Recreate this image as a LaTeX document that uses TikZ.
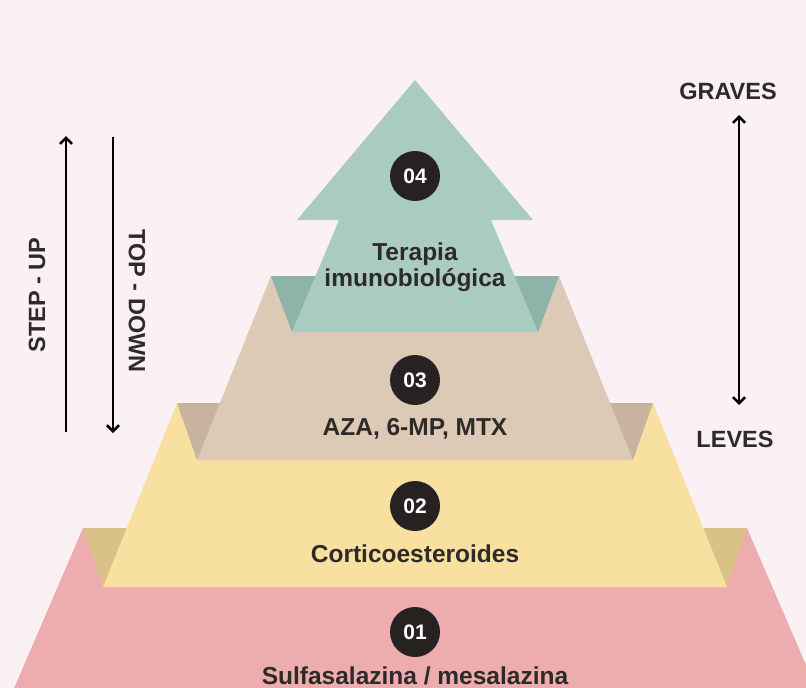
\documentclass[tikz,border=0pt]{standalone}
\usepackage{fontspec}
\setmainfont{Liberation Sans}
\usetikzlibrary{arrows.meta}
\definecolor{bg}{HTML}{FBF1F5}
\definecolor{pinkT}{HTML}{EDADAE}
\definecolor{yelT}{HTML}{F8E0A1}
\definecolor{yelF}{HTML}{D9C188}
\definecolor{tanT}{HTML}{DCC9B6}
\definecolor{tanF}{HTML}{C8B39F}
\definecolor{grnT}{HTML}{A9CBC0}
\definecolor{grnF}{HTML}{8EB4AA}
\definecolor{circ}{HTML}{262222}
\definecolor{txt}{HTML}{2E2A28}
\tikzset{
  lbl/.style={font=\fontsize{23.5}{28}\selectfont\bfseries, text=txt, inner sep=0pt},
  tiertxt/.style={font=\fontsize{24.5}{26}\selectfont\bfseries, text=txt, inner sep=0pt, anchor=base},
  numc/.style={circle, fill=circ, text=white, minimum size=50pt, inner sep=0pt, font=\fontsize{21}{22}\selectfont\bfseries},
  conn/.style={line width=2.6pt, draw=black, -{Straight Barb[length=6pt,width=12pt]}},
  dconn/.style={line width=2.6pt, draw=black, {Straight Barb[length=6pt,width=12pt]}-{Straight Barb[length=6pt,width=12pt]}}
}
\begin{document}
\begin{tikzpicture}[x=1pt,y=-1pt]
\useasboundingbox (0,0) rectangle (806,688);
\clip (0,0) rectangle (806,688);
\fill[bg] (0,0) rectangle (806,688);
% tier 1 (pink)
\fill[pinkT] (83,528) -- (747,528) -- (821,700) -- (9,700) -- cycle;
% tier 2 (yellow)
\fill[yelF] (83,528) -- (747,528) -- (727,587) -- (103,587) -- cycle;
\fill[yelT] (177,403) -- (653,403) -- (727,587) -- (103,587) -- cycle;
% tier 3 (tan)
\fill[tanF] (177,403) -- (653,403) -- (633,460) -- (197,460) -- cycle;
\fill[tanT] (271,276) -- (559,276) -- (633,460) -- (197,460) -- cycle;
% tier 4 (green arrow)
\fill[grnF] (271,276) -- (559,276) -- (538,332) -- (292,332) -- cycle;
\fill[grnT] (415,80) -- (533,220) -- (491,220) -- (538,332) -- (292,332) -- (339,220) -- (297,220) -- cycle;
% numbers
\node[numc] (n4) at (415,176) {04};
\node[numc] (n3) at (415,380) {03};
\node[numc] (n2) at (415,506) {02};
\node[numc] (n1) at (415,632) {01};
% tier texts
\node[tiertxt] (t4a) at (415,260) {Terapia};
\node[tiertxt] (t4b) at (415,286) {imunobiológica};
\node[tiertxt] (t3) at (415,435) {AZA, 6-MP, MTX};
\node[tiertxt] (t2) at (415,562) {Corticoesteroides};
\node[tiertxt] (t1) at (415,684) {Sulfasalazina / mesalazina};
% left arrows
\coordinate (su1) at (66,432);
\coordinate (su2) at (66,136);
\draw[conn] (su1) -- (su2);
\coordinate (td1) at (113,137);
\coordinate (td2) at (113,433);
\draw[conn] (td1) -- (td2);
\node[lbl, rotate=90] (lsu) at (37,295) {STEP - UP};
\node[lbl, rotate=-90] (ltd) at (137,301) {TOP - DOWN};
% right scale
\node[lbl, anchor=base] (gr) at (728,99) {GRAVES};
\node[lbl, anchor=base] (lv) at (735,447) {LEVES};
\coordinate (g1) at (739,115);
\coordinate (g2) at (739,405);
\draw[dconn] (g1) -- (g2);
\end{tikzpicture}
\end{document}
